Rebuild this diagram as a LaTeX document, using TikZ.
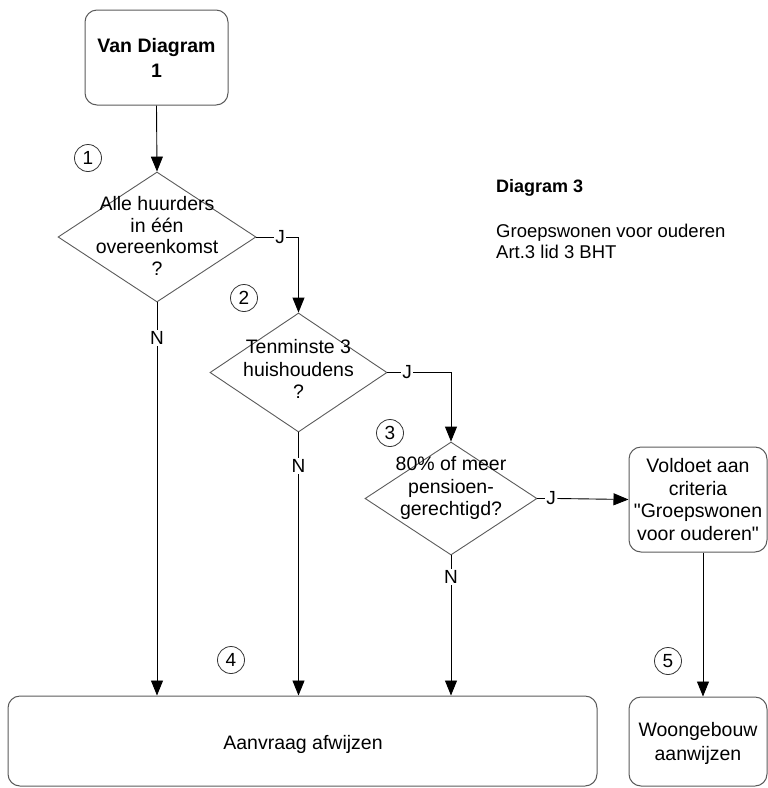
\documentclass[tikz,border=0pt]{standalone}
\usepackage{fontspec}
\setmainfont{Liberation Sans}
\usetikzlibrary{shapes.geometric,arrows.meta}
\definecolor{bordergray}{HTML}{5A5A5A}
\tikzset{
  txt/.style={font=\fontsize{19.5}{22.5}\selectfont, align=center, inner sep=0pt},
  rbox/.style={draw=bordergray, line width=1pt, rounded corners=12pt, inner sep=0pt},
  dia/.style={draw=bordergray, line width=0.9pt, shape=diamond, inner sep=0pt},
  circ/.style={draw=black!80, line width=0.8pt, circle, minimum size=27pt, inner sep=0pt, font=\fontsize{19}{20}\selectfont},
  lbl/.style={font=\fontsize{19}{20}\selectfont, inner sep=1.5pt},
  arr/.style={draw=black, line width=0.9pt, -{Triangle[length=15pt,width=12pt]}},
  ln/.style={draw=black, line width=0.9pt}
}
\begin{document}
\begin{tikzpicture}[x=1pt,y=-1pt]
\useasboundingbox (0,0) rectangle (768,788);

% boxes
\node[rbox, minimum width=143pt, minimum height=95pt] (start) at (156.5,57.5) {};
\node[txt, font=\fontsize{19.5}{25}\selectfont\bfseries] (starttxt) at (156.5,57.5) {Van Diagram\\1};

\node[rbox, minimum width=589pt, minimum height=90pt] (rej) at (302.5,741) {};
\node[txt] (rejtxt) at (303,744) {Aanvraag afwijzen};

\node[rbox, minimum width=138pt, minimum height=105pt] (vold) at (698,499.5) {};
\node[txt] (voldtxt) at (698,499.5) {Voldoet aan\\criteria\\\textquotedbl Groepswonen\\voor ouderen\textquotedbl};

\node[rbox, minimum width=138pt, minimum height=89pt] (woon) at (698,741.5) {};
\node[txt, font=\fontsize{19.5}{24}\selectfont] (woontxt) at (698,743) {Woongebouw\\aanwijzen};

% diamonds
\node[dia, minimum width=198pt, minimum height=130pt] (d1) at (157,237) {};
\node[txt, font=\fontsize{19.5}{21.7}\selectfont] (d1txt) at (157,236) {Alle huurders\\in één\\overeenkomst\\?};

\node[dia, minimum width=177pt, minimum height=119pt] (d2) at (298.5,372.5) {};
\node[txt] (d2txt) at (298.5,369) {Tenminste 3\\huishoudens\\?};

\node[dia, minimum width=172pt, minimum height=113pt] (d3) at (451,498.5) {};
\node[txt] (d3txt) at (451,488) {80\% of meer\\pensioen-\\gerechtigd?};

% circled numbers
\node[circ] (c1) at (88,158) {1};
\node[circ] (c2) at (244,298) {2};
\node[circ] (c3) at (390,433) {3};
\node[circ] (c4) at (231,660) {4};
\node[circ] (c5) at (668,661) {5};

% side text
\node[anchor=base west, inner sep=0pt, font=\fontsize{18}{20}\selectfont\bfseries] (title) at (496,192) {Diagram 3};
\node[anchor=north west, inner sep=0pt, align=left, font=\fontsize{18.5}{21}\selectfont] (sub) at (496,224) {Groepswonen voor ouderen\\Art.3 lid 3 BHT};

% J / N labels
\node[lbl] (j1) at (280,237) {J};
\node[lbl] (n1) at (157,338) {N};
\node[lbl] (j2) at (407,372.5) {J};
\node[lbl] (n2) at (298.5,466) {N};
\node[lbl] (j3) at (551,498.5) {J};
\node[lbl] (n3) at (451,577) {N};

% connectors
\draw[arr] (start.south) -- (d1.north);
\draw[ln] (d1.east) -- (j1.west);
\draw[arr] (j1.east) -| (d2.north);
\draw[ln] (d1.south) -- (n1.north);
\draw[arr] (n1.south) -- (n1 |- rej.north);

\draw[ln] (d2.east) -- (j2.west);
\draw[arr] (j2.east) -| (d3.north);
\draw[ln] (d2.south) -- (n2.north);
\draw[arr] (n2.south) -- (n2 |- rej.north);

\draw[ln] (d3.east) -- (j3.west);
\draw[arr] (j3.east) -- (vold.west);
\draw[ln] (d3.south) -- (n3.north);
\draw[arr] (n3.south) -- (n3 |- rej.north);

\draw[arr] ([xshift=5pt]vold.south) -- ([xshift=5pt]woon.north);
\end{tikzpicture}
\end{document}
